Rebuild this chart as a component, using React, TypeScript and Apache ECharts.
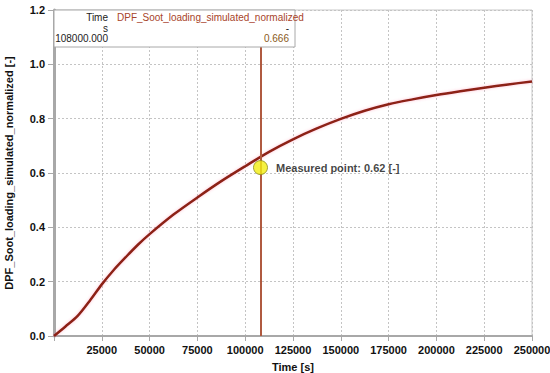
import React, { useEffect, useRef } from "react";
import * as echarts from "echarts";

const timeValues = [0, 6000, 12500, 18750, 25000, 31250, 37500, 43750, 50000, 62500, 75000, 87500, 100000, 112500, 125000, 137500, 150000, 162500, 175000, 187500, 200000, 212500, 225000, 237500, 250000];
const sootValues = [0, 0.035, 0.075, 0.13, 0.19, 0.243, 0.29, 0.335, 0.375, 0.447, 0.51, 0.57, 0.625, 0.678, 0.724, 0.764, 0.799, 0.829, 0.853, 0.871, 0.887, 0.901, 0.914, 0.926, 0.937];
const cursorTime = 108000;
const cursorValue = 0.666;
const measuredValue = 0.62;
const seriesName = "DPF_Soot_loading_simulated_normalized";

export default function App() {
  const ref = useRef<HTMLDivElement>(null);
  useEffect(() => {
    if (!ref.current) return;
    const chart = echarts.init(ref.current, null, { renderer: "svg" });
    const font = "Arial, 'Liberation Sans', sans-serif";
    chart.setOption({
      animation: false,
      grid: {
        left: 54, right: 18, top: 10, bottom: 37, show: true,
        borderColor: "#c8c8c8", borderWidth: 1,
        containLabel: false, outerBoundsMode: "none",
      },
      xAxis: {
        type: "value",
        min: 0,
        max: 250000,
        interval: 25000,
        name: "Time [s]",
        nameLocation: "middle",
        nameGap: 25,
        nameTextStyle: { fontFamily: font, fontWeight: "bold", fontSize: 11, color: "#111" },
        axisLine: { show: true, lineStyle: { color: "#a8a8a8", width: 2 } },
        axisTick: { show: true, length: 5, lineStyle: { color: "#a8a8a8" } },
        axisLabel: {
          fontFamily: font, fontWeight: "bold", fontSize: 11, color: "#111", margin: 8,
          formatter: (v: number) => (v === 0 ? "" : String(v)),
        },
        splitLine: { show: true, lineStyle: { type: [2, 2], color: "#c4c4c4" } },
      },
      yAxis: {
        type: "value",
        min: 0,
        max: 1.2,
        interval: 0.2,
        name: "DPF_Soot_loading_simulated_normalized [-]",
        nameLocation: "middle",
        nameGap: 40,
        nameTextStyle: { fontFamily: font, fontWeight: "bold", fontSize: 11, color: "#111" },
        axisLine: { show: true, lineStyle: { color: "#a8a8a8", width: 3 } },
        axisTick: { show: true, length: 6, lineStyle: { color: "#a8a8a8" } },
        axisLabel: {
          fontFamily: font, fontWeight: "bold", fontSize: 11, color: "#111", margin: 9,
          formatter: (v: number) => v.toFixed(1),
        },
        splitLine: { show: true, lineStyle: { type: [2, 2], color: "#c4c4c4" } },
      },
      series: [
        {
          type: "line",
          name: seriesName,
          data: timeValues.map((t, i) => [t, sootValues[i]]),
          smooth: 0.3,
          showSymbol: false,
          lineStyle: { color: "#8c2212", width: 2.5, shadowColor: "rgba(255,80,120,0.35)", shadowBlur: 3 },
          z: 3,
          markLine: {
            silent: true,
            symbol: ["none", "none"],
            label: { show: false },
            lineStyle: { color: "#b05a40", width: 2, type: "solid" },
            data: [{ xAxis: cursorTime }],
          },
        },
        {
          type: "scatter",
          name: "Measured point",
          data: [[cursorTime, measuredValue]],
          symbol: "circle",
          symbolSize: 14,
          itemStyle: { color: "#f2ee10", borderColor: "#8a8a20", borderWidth: 1 },
          label: {
            show: true,
            position: "right",
            distance: 8,
            formatter: () => `Measured point: ${measuredValue} [-]`,
            fontFamily: font, fontWeight: "bold", fontSize: 11, color: "#111",
          },
          z: 5,
        },
      ],
      graphic: [
        {
          type: "rect",
          shape: { x: 54, y: 10, width: 241, height: 37 },
          style: { fill: "#ffffff", stroke: "#a8a8a8", lineWidth: 1 },
          z: 100,
        },
        { type: "text", x: 108, y: 12, z: 101, style: { text: "Time", align: "right", fontFamily: font, fontSize: 10, fill: "#222" } },
        { type: "text", x: 117, y: 12, z: 101, style: { text: seriesName, align: "left", fontFamily: font, fontSize: 10, fill: "#a8442a" } },
        { type: "text", x: 108, y: 23, z: 101, style: { text: "s", align: "right", fontFamily: font, fontSize: 10, fill: "#222" } },
        { type: "text", x: 289, y: 23, z: 101, style: { text: "-", align: "right", fontFamily: font, fontSize: 10, fill: "#222" } },
        { type: "text", x: 108, y: 33, z: 101, style: { text: cursorTime.toFixed(3), align: "right", fontFamily: font, fontSize: 10, fill: "#222" } },
        { type: "text", x: 289, y: 33, z: 101, style: { text: cursorValue.toFixed(3), align: "right", fontFamily: font, fontSize: 10, fill: "#8a5a1a" } },
      ],
    });
    return () => chart.dispose();
  }, []);
  return <div ref={ref} style={{ width: 550, height: 373, position: "fixed", left: 0, top: 0, background: "#fff" }} />;
}
